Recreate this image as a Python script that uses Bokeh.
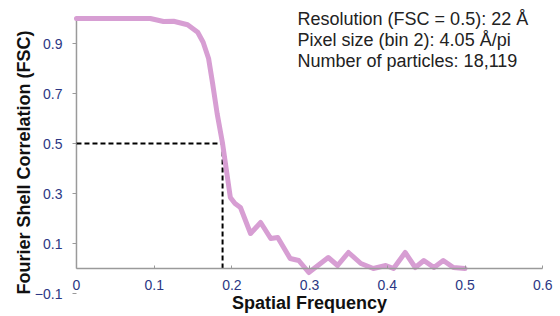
from bokeh.plotting import figure
from bokeh.models import FixedTicker, Label, Range1d
from bokeh.embed import file_html
from bokeh.resources import INLINE

# Data
freq = [0.0, 0.03, 0.06, 0.095, 0.112, 0.125, 0.143, 0.156, 0.163, 0.170, 0.175,
        0.181, 0.188, 0.198, 0.204, 0.211, 0.224, 0.237, 0.25, 0.259, 0.275, 0.286,
        0.299, 0.324, 0.336, 0.35, 0.366, 0.382, 0.398, 0.408, 0.423, 0.436, 0.447,
        0.46, 0.472, 0.485, 0.5]
fsc = [1.0, 1.0, 1.0, 1.0, 0.988, 0.989, 0.975, 0.945, 0.905, 0.84, 0.744,
       0.62, 0.5, 0.284, 0.26, 0.244, 0.14, 0.184, 0.12, 0.124, 0.04, 0.032,
       -0.016, 0.044, 0.012, 0.064, 0.02, 0.0, 0.012, 0.0, 0.064, 0.004, 0.032,
       0.004, 0.032, 0.004, 0.0]
threshold = 0.5
res_freq = 0.188
x_ticks = [0, 0.1, 0.2, 0.3, 0.4, 0.5, 0.6]
x_tick_labels = ["0", "0.1", "0.2", "0.3", "0.4", "0.5", "0.6"]
y_ticks = [-0.1, 0.1, 0.3, 0.5, 0.7, 0.9]
info_lines = ["Resolution (FSC = 0.5): 22 \u00c5",
              "Pixel size (bin 2): 4.05 \u00c5/pi",
              "Number of particles: 18,119"]

FONT = "Liberation Sans"
TICK_COLOR = "#2b3784"
AXIS_COLOR = "#9a9a9a"

p = figure(width=560, height=316, frame_width=556, frame_height=308,
           output_backend="svg", toolbar_location=None,
           x_range=Range1d(-0.0952, 0.6203), y_range=Range1d(-0.192, 1.04),
           min_border_left=2, min_border_right=2, min_border_top=8,
           min_border_bottom=0)
p.outline_line_color = None
p.xgrid.visible = False
p.ygrid.visible = False

# axes, both pinned at the origin
xa = p.xaxis[0]
ya = p.yaxis[0]
xa.fixed_location = 0
ya.fixed_location = 0
xa.bounds = (x_ticks[0], x_ticks[-1])
xa.ticker = FixedTicker(ticks=x_ticks)
xa.major_label_overrides = {t: l for t, l in zip(x_ticks, x_tick_labels)}
ya.ticker = FixedTicker(ticks=y_ticks)
for ax in (xa, ya):
    ax.axis_line_color = AXIS_COLOR
    ax.axis_line_width = 1.5
    ax.major_tick_line_color = AXIS_COLOR
    ax.minor_tick_line_color = None
    ax.major_label_text_font = FONT
    ax.major_label_text_font_size = "14px"
    ax.major_label_text_color = TICK_COLOR
    ax.axis_label_text_font = FONT
    ax.axis_label_text_font_size = "18px"
    ax.axis_label_text_font_style = "bold"
    ax.axis_label_text_color = "#111111"

xa.axis_label = "Spatial Frequency"
xa.major_tick_in = 3
xa.major_tick_out = 0
xa.major_label_standoff = 11
xa.axis_label_standoff = 0

ya.axis_label = "Fourier Shell Correlation (FSC)"
ya.axis_line_color = None
ya.major_tick_in = 0
ya.major_tick_out = 4
ya.major_label_standoff = 10
ya.axis_label_standoff = -2

# visible y-axis line spans the correlation range 0..1
p.line([0, 0], [0, max(fsc)], line_color=AXIS_COLOR, line_width=1.5)

# dashed threshold lines
p.line([0, res_freq], [threshold, threshold], line_color="black",
       line_width=2, line_dash="5 3")
p.line([res_freq, res_freq], [0, threshold], line_color="black",
       line_width=2, line_dash="5 3")

# FSC curve
p.line(freq, fsc, line_color="#d79ed3", line_width=5, line_join="round",
       line_cap="round")

# info text
for i, line in enumerate(info_lines):
    p.add_layout(Label(x=0.2845, y=1.0 - i * 0.085, text=line,
                       text_align="left", text_baseline="alphabetic",
                       text_font=FONT, text_font_size="18px",
                       text_color="#222222"))

open("out.html", "w").write(file_html(p, INLINE))
